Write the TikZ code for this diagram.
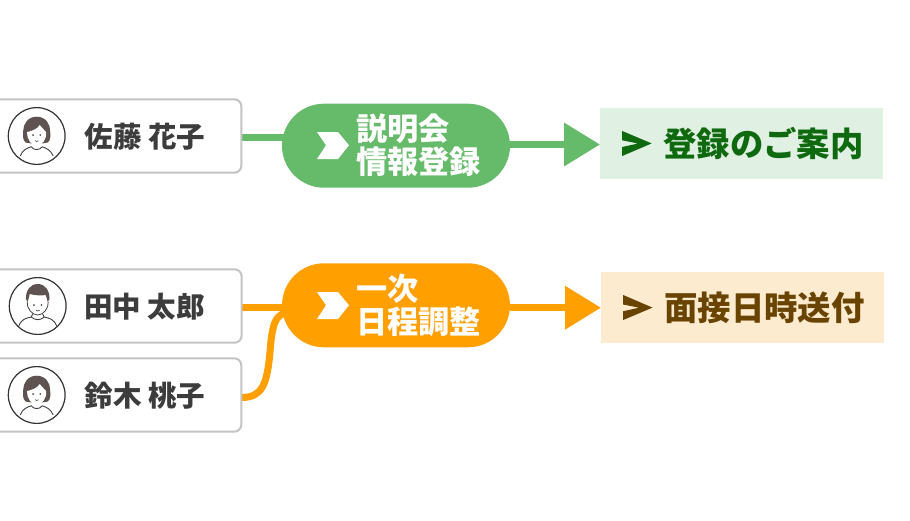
\documentclass[tikz,border=0pt]{standalone}
\usepackage{fontspec}
\usetikzlibrary{arrows.meta,shapes.misc,backgrounds}
\newfontfamily\jp{Noto Sans CJK JP}
\definecolor{cgreen}{HTML}{66BB6A}
\definecolor{corange}{HTML}{FFA000}
\definecolor{gbox}{HTML}{E0F0E3}
\definecolor{obox}{HTML}{FDEBCF}
\definecolor{gtext}{HTML}{0F6A0F}
\definecolor{otext}{HTML}{694300}
\definecolor{ink}{HTML}{3C3C3C}
\definecolor{hairc}{HTML}{5E5350}
\tikzset{
 card/.style={draw=black!23,fill=white,line width=2pt,rounded corners=7pt,minimum width=262pt,minimum height=73.4pt,inner sep=0,outer sep=0},
 persontext/.style={font=\jp\bfseries\fontsize{28.5}{30}\selectfont,text=ink,anchor=west,inner sep=0},
 pill/.style={rounded rectangle,minimum width=228pt,minimum height=84pt,inner sep=0,outer sep=0},
 pilltext/.style={font=\jp\bfseries\fontsize{31.2}{33.5}\selectfont,text=white,anchor=west,align=left,inner sep=0},
 goal/.style={minimum width=283pt,minimum height=71.5pt,inner sep=0,outer sep=0},
 goaltext/.style={font=\jp\bfseries\fontsize{33.4}{36}\selectfont,anchor=west,inner sep=0},
 link/.style={line width=7pt},
 flow/.style={line width=7pt,-{Triangle[length=36pt,width=42pt]}},
 ring/.style={draw=black!80,line width=1.2pt,fill=white},
 figline/.style={draw=black!75,line width=.9pt},
}
\newcommand{\womanface}[2]{%
 \begin{scope}[shift={(#1,#2)}]
  \draw[ring] (0,0) circle (28.4);
  \fill[hairc] (0,-19.3) .. controls (9,-19.3) and (13.5,-12) .. (13.5,-5) .. controls (13.5,-1) and (14.5,4) .. (11,6.5) .. controls (5,8) and (-5,8) .. (-11,6.5) .. controls (-14.5,4) and (-13.5,-1) .. (-13.5,-5) .. controls (-13.5,-12) and (-9,-19.3) .. (0,-19.3) -- cycle;
  \fill[white] (-9.5,-4) .. controls (-5,-5) and (1,-7) .. (3,-11) .. controls (5,-8) and (8,-6) .. (9.5,-4) .. controls (10,4) and (5,9.5) .. (0,9.5) .. controls (-5,9.5) and (-10,4) .. (-9.5,-4) -- cycle;
  \fill[black!80] (-3.6,-1) circle (.9) (3.6,-1) circle (.9);
  \draw[black!70,line width=.7pt] (-1.6,4.8) .. controls (-.6,5.6) and (.8,5.6) .. (1.8,4.8);
  \draw[figline] (-16.5,20) .. controls (-14,14) and (-10,12.2) .. (-5.5,10.8) .. controls (-3,14.5) and (3,14.5) .. (5.5,10.8) .. controls (10,12.2) and (14,14) .. (16.5,20);
 \end{scope}}
\newcommand{\manface}[2]{%
 \begin{scope}[shift={(#1,#2)}]
  \draw[ring] (0,0) circle (28.4);
  \fill[white] (-10.5,-8) -- (10.5,-8) .. controls (11,2) and (6,8) .. (0,8) .. controls (-6,8) and (-11,2) .. (-10.5,-8) -- cycle;
  \fill[hairc] (0,-22) .. controls (8,-22) and (12,-15) .. (11.8,-7) -- (10,-4) .. controls (9,-7) and (9,-9) .. (8,-11) .. controls (3,-10) and (-4,-11) .. (-8,-12) .. controls (-9,-9) and (-9,-7) .. (-10,-4) -- (-11.8,-7) .. controls (-12,-15) and (-8,-22) .. (0,-22) -- cycle;
  \draw[black!75,line width=.8pt] (-10.5,-4) .. controls (-11,2) and (-6,9) .. (0,9) .. controls (6,9) and (11,2) .. (10.5,-4);
  \fill[black!80] (-3.8,-1) circle (.9) (3.8,-1) circle (.9);
  \draw[black!70,line width=.7pt] (-1.8,4.2) .. controls (-.6,5.2) and (.8,5.2) .. (2,4.2);
  \draw[figline] (-19,20) .. controls (-16,13) and (-12,12.2) .. (-6.5,11) -- (-5,8) (6.5,11) -- (5,8) (-6.5,11) .. controls (-3,14.5) and (3,14.5) .. (6.5,11) .. controls (12,12.2) and (16,13) .. (19,20);
 \end{scope}}
\begin{document}
\begin{tikzpicture}[x=1pt,y=-1pt]
 \clip (0,0) rectangle (910,520);
 % cards
 \node[card] (c1) at (110.3,136) {};
 \node[card] (c2) at (110.6,306) {};
 \node[card] (c3) at (110.3,395) {};
 \womanface{36.7}{136}
 \manface{37.7}{306}
 \womanface{36.7}{395}
 \node[persontext] (n1) at (84.5,136.5) {佐藤 花子};
 \node[persontext] (n2) at (84,307) {田中 太郎};
 \node[persontext] (n3) at (84.5,396) {鈴木 桃子};
 % pills
 \node[pill,fill=cgreen] (p1) at (396,145.7) {};
 \node[pill,fill=corange] (p2) at (396,305.3) {};
 \fill[white] (317,132) -- (338,132) -- (349,145.3) -- (338,159) -- (317,159) -- (326,145.3) -- cycle;
 \fill[white] (317,292) -- (338,292) -- (349,305.3) -- (338,319) -- (317,319) -- (326,305.3) -- cycle;
 \node[pilltext] (t1) at (356,145) {説明会\\情報登録};
 \node[pilltext] (t2) at (356,305.3) {一次\\日程調整};
 % goals
 \node[goal,fill=gbox] (g1) at (741.5,143.5) {};
 \node[goal,fill=obox] (g2) at (742.5,307.7) {};
 \fill[gtext] (622.2,131) -- (651.7,143.4) -- (622.2,156) -- (622.2,147) -- (638,143.5) -- (622.2,140.3) -- cycle;
 \fill[otext] (623.2,295) -- (652.5,307.6) -- (623.2,320) -- (623.2,311.2) -- (639,307.7) -- (623.2,304.5) -- cycle;
 \node[goaltext,text=gtext] (a1) at (663,143.5) {登録のご案内};
 \node[goaltext,text=otext] (a2) at (664,308) {面接日時送付};
 % connectors
 \coordinate (j1) at (285,137.7);
 \coordinate (j2) at (285,307.6);
 \coordinate (j3) at (285,313);
 \coordinate (f1) at (600,144.5);
 \begin{scope}[on background layer]
  \fill[white] (0,0) rectangle (910,520);
  \draw[link,cgreen] (c1.east |- j1) -- (j1);
  \draw[link,corange] (c2.east |- j2) -- (j2);
  \draw[link,corange] (c3.east |- 0,397.5) .. controls (262,397.5) and (267,385) .. (270,352) .. controls (272,325) and (275,316) .. (j3);
 \end{scope}
 \draw[flow,cgreen] (p1.east |- f1) -- (f1);
 \draw[flow,corange] (p2.east |- g2.west) -- (g2.west);
\end{tikzpicture}
\end{document}
